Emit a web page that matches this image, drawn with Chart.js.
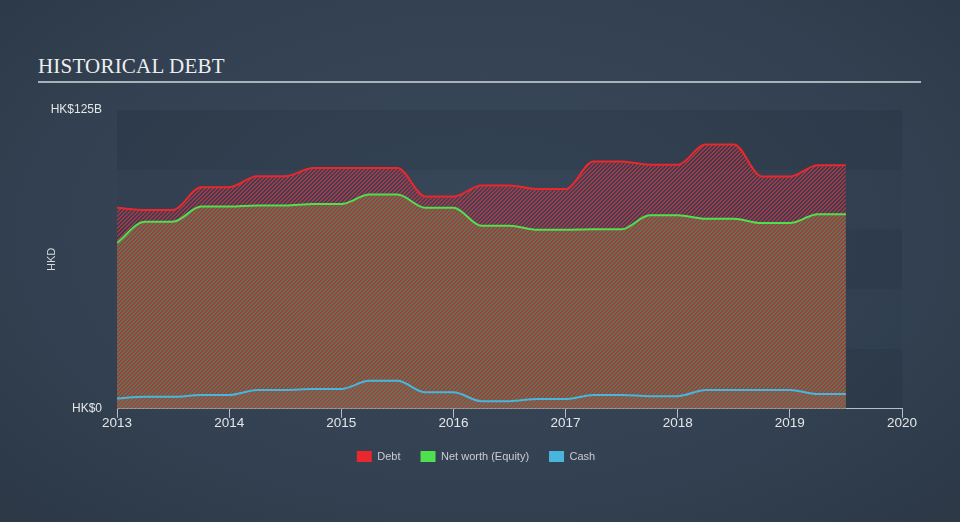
<!DOCTYPE html>
<html>
<head>
<meta charset="utf-8">
<script src="https://cdn.jsdelivr.net/npm/chart.js@4.4.1/dist/chart.umd.min.js"></script>
<style>
  html, body { margin: 0; padding: 0; }
  #wrap {
    position: relative; width: 960px; height: 522px; overflow: hidden;
    background: radial-gradient(ellipse at 50% 45%, #3a495b 0%, #334152 60%, #2c3846 100%);
  }
  #title {
    position: absolute; left: 38px; top: 54px;
    font: 21px "Liberation Serif", "DejaVu Serif", serif; color: #eceef0; letter-spacing: 0.2px;
  }
  #rule { position: absolute; left: 38px; top: 81px; width: 883px; height: 2px; background: #a9b1ba; }
  canvas { position: absolute; left: 0; top: 0; }
</style>
</head>
<body>
<div id="wrap">
  <div id="title">HISTORICAL DEBT</div>
  <div id="rule"></div>
  <canvas id="chart" width="960" height="522"></canvas>
</div>
<script>
// quarterly points, values in HK$ billions
const quarters = [2013, 2013.25, 2013.5, 2013.75, 2014, 2014.25, 2014.5, 2014.75, 2015, 2015.25, 2015.5, 2015.75,
  2016, 2016.25, 2016.5, 2016.75, 2017, 2017.25, 2017.5, 2017.75, 2018, 2018.25, 2018.5, 2018.75, 2019, 2019.25, 2019.5];
const debt = [84.1, 83.2, 83.2, 92.7, 92.7, 97.3, 97.3, 100.7, 100.7, 100.7, 100.7, 88.8,
  88.8, 93.4, 93.4, 91.9, 91.9, 103.5, 103.5, 102.1, 102.1, 110.6, 110.6, 97.2, 97.2, 101.9, 101.9];
const equity = [69.4, 78.3, 78.3, 84.6, 84.6, 85.1, 85.1, 85.7, 85.7, 89.6, 89.6, 84.1,
  84.1, 76.6, 76.6, 74.9, 74.9, 75.1, 75.1, 81.0, 81.0, 79.5, 79.5, 77.7, 77.7, 81.4, 81.4];
const cash = [4.3, 5.0, 5.0, 5.8, 5.8, 7.9, 7.9, 8.3, 8.3, 11.7, 11.7, 6.9,
  6.9, 3.2, 3.2, 4.1, 4.1, 5.8, 5.8, 5.3, 5.3, 7.9, 7.9, 7.9, 7.9, 6.2, 6.2];
const yearTicks = [2013, 2014, 2015, 2016, 2017, 2018, 2019, 2020];
const seriesNames = ['Debt', 'Net worth (Equity)', 'Cash'];
const lineColors = ['#e8282c', '#4fe04f', '#48b6dc'];

const FONT = '"Liberation Sans", Arial, sans-serif';

// diagonal hatch, 4px period; phases let the overlapping fills interleave
function hatch(color, phases) {
  const c = document.createElement('canvas');
  c.width = 4; c.height = 4;
  const g = c.getContext('2d');
  g.fillStyle = color;
  for (let y = 0; y < 4; y++) {
    for (let x = 0; x < 4; x++) {
      if (phases.includes((x + y) % 4)) g.fillRect(x, y, 1, 1);
    }
  }
  return g.createPattern(c, 'repeat');
}

const pts = (vals) => quarters.map((q, i) => ({ x: q, y: vals[i] }));

const bands = {
  id: 'bands',
  beforeDraw(chart) {
    const { ctx, chartArea: a, scales: { y } } = chart;
    ctx.save();
    for (let i = 0; i < y.ticks.length - 1; i++) {
      const bot = y.getPixelForValue(y.ticks[i].value);
      const top = y.getPixelForValue(y.ticks[i + 1].value);
      ctx.fillStyle = i % 2 ? 'rgba(10,18,30,0.03)' : 'rgba(10,18,30,0.11)';
      ctx.fillRect(a.left, top, a.right - a.left, bot - top);
    }
    ctx.restore();
  },
  afterDraw(chart) {
    const { ctx, chartArea: a } = chart;
    ctx.save();
    ctx.translate(52, (a.top + a.bottom) / 2);
    ctx.rotate(-Math.PI / 2);
    ctx.font = '11px ' + FONT;
    ctx.fillStyle = '#d4d8dc';
    ctx.textAlign = 'center';
    ctx.textBaseline = 'middle';
    ctx.fillText('HKD', 0, 0);
    ctx.restore();
  }
};

const common = { pointRadius: 0, borderWidth: 2, cubicInterpolationMode: 'monotone', fill: 'origin' };

new Chart(document.getElementById('chart'), {
  type: 'line',
  data: {
    datasets: [
      { ...common, label: seriesNames[0], data: pts(debt), borderColor: lineColors[0], backgroundColor: hatch('rgba(185,52,68,0.9)', [0, 1]) },
      { ...common, label: seriesNames[1], data: pts(equity), borderColor: lineColors[1], backgroundColor: hatch('rgba(88,128,76,0.95)', [2, 3]) },
      { ...common, label: seriesNames[2], data: pts(cash), borderColor: lineColors[2], backgroundColor: hatch('rgba(72,140,160,0.95)', [0, 1]) },
    ],
  },
  options: {
    responsive: false,
    animation: false,
    devicePixelRatio: 1,
    layout: { padding: { top: 110, right: 58, bottom: 50, left: 50 } },
    plugins: {
      filler: { drawTime: 'beforeDatasetsDraw' },
      tooltip: { enabled: false },
      legend: {
        position: 'bottom',
        labels: {
          boxWidth: 15, boxHeight: 11, padding: 20, color: '#c9cdd2',
          font: { size: 11, family: FONT },
          generateLabels: (chart) => Chart.defaults.plugins.legend.labels.generateLabels(chart).map((l, i) =>
            ({ ...l, fillStyle: lineColors[i], strokeStyle: lineColors[i], lineWidth: 0 })),
        },
      },
    },
    scales: {
      x: {
        type: 'linear', min: 2013, max: 2020,
        afterBuildTicks: (s) => { s.ticks = yearTicks.map((v) => ({ value: v })); },
        afterFit: (s) => { s.height += 3; },
        ticks: { color: '#e4e6e8', font: { size: 13.5, family: FONT }, padding: -3, maxRotation: 0, callback: (v) => String(v) },
        grid: { drawOnChartArea: false, color: '#b8bec6', tickLength: 9 },
        border: { color: '#b8bec6', width: 1 },
      },
      y: {
        min: 0, max: 125,
        afterFit: (s) => { s.width = 67; },
        ticks: { stepSize: 25, padding: 15, color: '#e4e6e8', font: { size: 12, family: FONT },
          callback: (v) => (v === 0 ? 'HK$0' : v === 125 ? 'HK$125B' : '') },
        grid: { display: false, drawTicks: false },
        border: { display: false },
      },
    },
  },
  plugins: [bands],
});
</script>
</body>
</html>
